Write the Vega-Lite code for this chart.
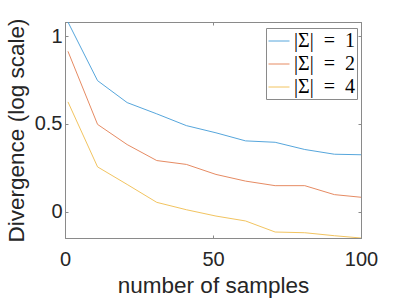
{
  "$schema": "https://vega.github.io/schema/vega-lite/v6.json",
  "autosize": {"type": "none"},
  "padding": {"left": 65, "top": 22, "right": 38, "bottom": 61},
  "width": 296,
  "height": 216,
  "background": "white",
  "config": {
    "view": {"stroke": "#8a8a8a", "strokeWidth": 1},
    "axis": {
      "labelFont": "Liberation Sans",
      "titleFont": "Liberation Sans",
      "labelFontSize": 20,
      "titleFontSize": 22.5,
      "titleFontWeight": "normal",
      "labelColor": "#262626",
      "titleColor": "#262626",
      "domainColor": "#8a8a8a",
      "tickColor": "#8a8a8a",
      "labelFlush": false,
      "labelOverlap": false,
      "grid": false
    }
  },
  "data": {
    "values": [
      {"n": 1, "v": 1.08, "s": "|Σ|\u2002=\u20021"},
      {"n": 11, "v": 0.746, "s": "|Σ|\u2002=\u20021"},
      {"n": 21, "v": 0.621, "s": "|Σ|\u2002=\u20021"},
      {"n": 31, "v": 0.557, "s": "|Σ|\u2002=\u20021"},
      {"n": 41, "v": 0.49, "s": "|Σ|\u2002=\u20021"},
      {"n": 51, "v": 0.449, "s": "|Σ|\u2002=\u20021"},
      {"n": 61, "v": 0.403, "s": "|Σ|\u2002=\u20021"},
      {"n": 71, "v": 0.395, "s": "|Σ|\u2002=\u20021"},
      {"n": 81, "v": 0.354, "s": "|Σ|\u2002=\u20021"},
      {"n": 91, "v": 0.327, "s": "|Σ|\u2002=\u20021"},
      {"n": 100, "v": 0.324, "s": "|Σ|\u2002=\u20021"},
      {"n": 1, "v": 0.913, "s": "|Σ|\u2002=\u20022"},
      {"n": 11, "v": 0.497, "s": "|Σ|\u2002=\u20022"},
      {"n": 21, "v": 0.382, "s": "|Σ|\u2002=\u20022"},
      {"n": 31, "v": 0.291, "s": "|Σ|\u2002=\u20022"},
      {"n": 41, "v": 0.269, "s": "|Σ|\u2002=\u20022"},
      {"n": 51, "v": 0.212, "s": "|Σ|\u2002=\u20022"},
      {"n": 61, "v": 0.174, "s": "|Σ|\u2002=\u20022"},
      {"n": 71, "v": 0.148, "s": "|Σ|\u2002=\u20022"},
      {"n": 81, "v": 0.148, "s": "|Σ|\u2002=\u20022"},
      {"n": 91, "v": 0.097, "s": "|Σ|\u2002=\u20022"},
      {"n": 100, "v": 0.082, "s": "|Σ|\u2002=\u20022"},
      {"n": 1, "v": 0.625, "s": "|Σ|\u2002=\u20024"},
      {"n": 11, "v": 0.255, "s": "|Σ|\u2002=\u20024"},
      {"n": 21, "v": 0.155, "s": "|Σ|\u2002=\u20024"},
      {"n": 31, "v": 0.053, "s": "|Σ|\u2002=\u20024"},
      {"n": 41, "v": 0.011, "s": "|Σ|\u2002=\u20024"},
      {"n": 51, "v": -0.025, "s": "|Σ|\u2002=\u20024"},
      {"n": 61, "v": -0.053, "s": "|Σ|\u2002=\u20024"},
      {"n": 71, "v": -0.116, "s": "|Σ|\u2002=\u20024"},
      {"n": 81, "v": -0.12, "s": "|Σ|\u2002=\u20024"},
      {"n": 91, "v": -0.137, "s": "|Σ|\u2002=\u20024"},
      {"n": 100, "v": -0.15, "s": "|Σ|\u2002=\u20024"}
    ]
  },
  "layer": [
    {
      "mark": {"type": "line", "strokeWidth": 1, "clip": true},
      "encoding": {
        "x": {
          "field": "n", "type": "quantitative",
          "scale": {"domain": [0, 100], "nice": false, "zero": false},
          "axis": {"orient": "bottom", "title": "number of samples", "values": [0, 50, 100], "tickSize": -3, "labelPadding": 14, "titlePadding": 5, "domain": true}
        },
        "y": {
          "field": "v", "type": "quantitative",
          "scale": {"domain": [-0.15, 1.08], "nice": false, "zero": false},
          "axis": {"orient": "left", "title": "Divergence (log scale)", "values": [0, 0.5, 1], "format": "~g", "tickSize": -3, "labelPadding": 6, "titlePadding": 6, "domain": true}
        },
        "color": {
          "field": "s", "type": "nominal",
          "scale": {"domain": ["|Σ|\u2002=\u20021", "|Σ|\u2002=\u20022", "|Σ|\u2002=\u20024"], "range": ["#56a6dc", "#e68b63", "#f2c460"]},
          "legend": {
            "title": null,
            "orient": "none",
            "legendX": 201,
            "legendY": 6,
            "strokeColor": "#8a8a8a",
            "fillColor": "white",
            "padding": 2,
            "rowPadding": 2,
            "symbolType": "stroke",
            "symbolSize": 441,
            "symbolStrokeWidth": 1,
            "labelFont": "Liberation Serif",
            "labelFontSize": 20,
            "labelColor": "#000000",
            "labelOffset": 4
          }
        }
      }
    },
    {
      "mark": {"type": "line", "opacity": 0},
      "encoding": {
        "x": {
          "field": "n", "type": "quantitative",
          "axis": {"orient": "top", "title": null, "values": [0, 50, 100], "tickSize": -3, "labels": false, "domain": true}
        },
        "y": {
          "field": "v", "type": "quantitative",
          "axis": {"orient": "right", "title": null, "values": [0, 0.5, 1], "tickSize": -3, "labels": false, "domain": true}
        },
        "detail": {"field": "s"}
      }
    }
  ],
  "resolve": {"axis": {"x": "independent", "y": "independent"}}
}
